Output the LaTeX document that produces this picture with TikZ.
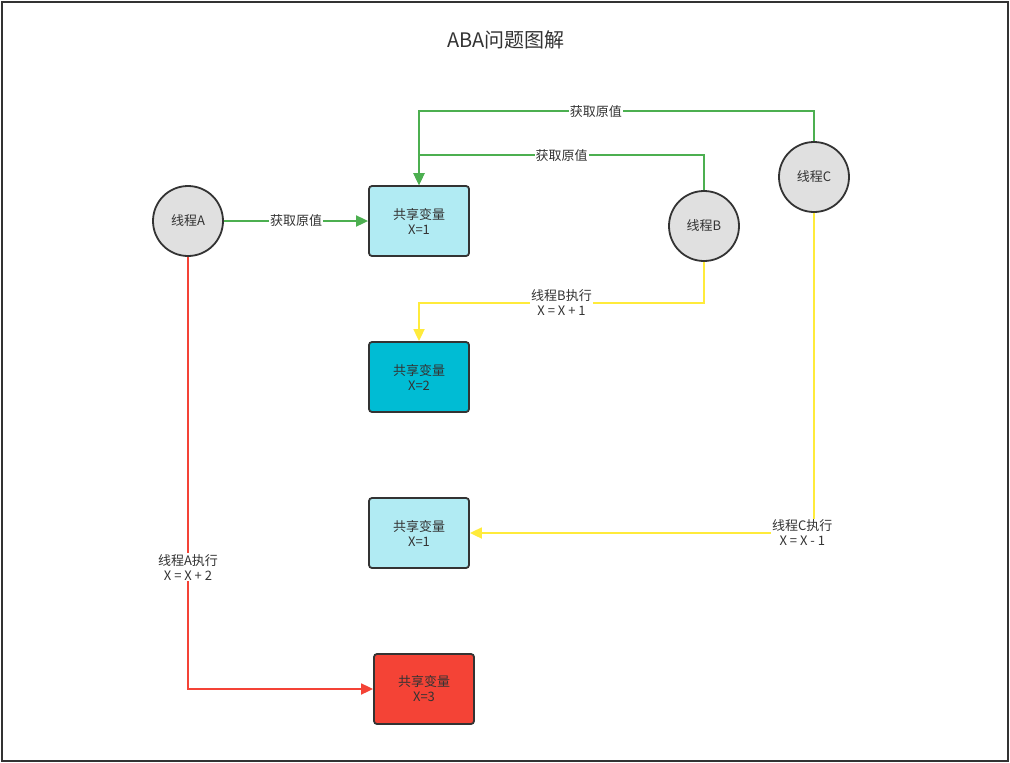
\documentclass[tikz,border=0pt]{standalone}
\usepackage{fontspec}
\setmainfont{Noto Sans CJK SC}
\usetikzlibrary{arrows.meta}
\definecolor{inkgray}{RGB}{51,51,51}
\definecolor{threadgray}{RGB}{224,224,224}
\definecolor{varlight}{RGB}{177,235,243}
\definecolor{vardark}{RGB}{0,188,212}
\definecolor{varred}{RGB}{244,67,54}
\definecolor{getgreen}{RGB}{76,175,80}
\definecolor{runyellow}{RGB}{255,235,59}
\definecolor{runred}{RGB}{244,67,54}

\begin{document}
\begin{tikzpicture}[x=1pt,y=-1pt]
\tikzstyle{thread}=[circle,draw=inkgray,fill=threadgray,line width=1.8pt,minimum size=70pt,inner sep=0pt,text=inkgray,font=\fontsize{13}{15}\selectfont]
\tikzstyle{var}=[rectangle,rounded corners=3pt,draw=inkgray,line width=1.8pt,minimum width=100pt,minimum height=70pt,align=center,text=inkgray,font=\fontsize{13}{15}\selectfont]
\tikzstyle{lbl}=[fill=white,inner sep=1pt,align=center,text=inkgray,font=\fontsize{13}{15}\selectfont]
\tikzstyle{link}=[line width=1.8pt,-{Triangle[length=12pt,width=11pt]}]
\useasboundingbox (0,0) rectangle (1010,763);
\draw [inkgray,line width=1.3pt] (2,2) rectangle (1008,761);
\node [text=inkgray,font=\fontsize{20}{24}\selectfont] (title) at (506,40) {ABA问题图解};
% threads
\node [thread] (ta) at (188,221) {线程A};
\node [thread] (tb) at (704,226) {线程B};
\node [thread] (tc) at (814,177) {线程C};
% shared variable
\node [var,fill=varlight] (v1) at (419,221) {共享变量\\X=1};
\node [var,fill=vardark] (v2) at (419,377) {共享变量\\X=2};
\node [var,fill=varlight] (v3) at (419,533) {共享变量\\X=1};
\node [var,fill=varred] (v4) at (424,689) {共享变量\\X=3};
% read
\draw [link,getgreen] (ta) -- node [lbl] {获取原值} (v1);
\draw [link,getgreen] (tb.north) -- ++(0,-35) -| node [lbl,pos=0.25] {获取原值} (v1.north);
\draw [link,getgreen] (tc.north) -- ++(0,-30) -| node [lbl,pos=0.276] {获取原值} (v1.north);
% write
\draw [link,runyellow] (tb.south) -- ++(0,41) -| node [lbl,pos=0.25] {线程B执行\\X = X + 1} (v2.north);
\draw [link,runyellow] (tc.south) |- node [lbl,pos=0.517] {线程C执行\\X = X - 1} (v3.east);
\draw [link,runred] (ta.south) |- node [lbl,pos=0.359] {线程A执行\\X = X + 2} (v4.west);
\end{tikzpicture}
\end{document}
